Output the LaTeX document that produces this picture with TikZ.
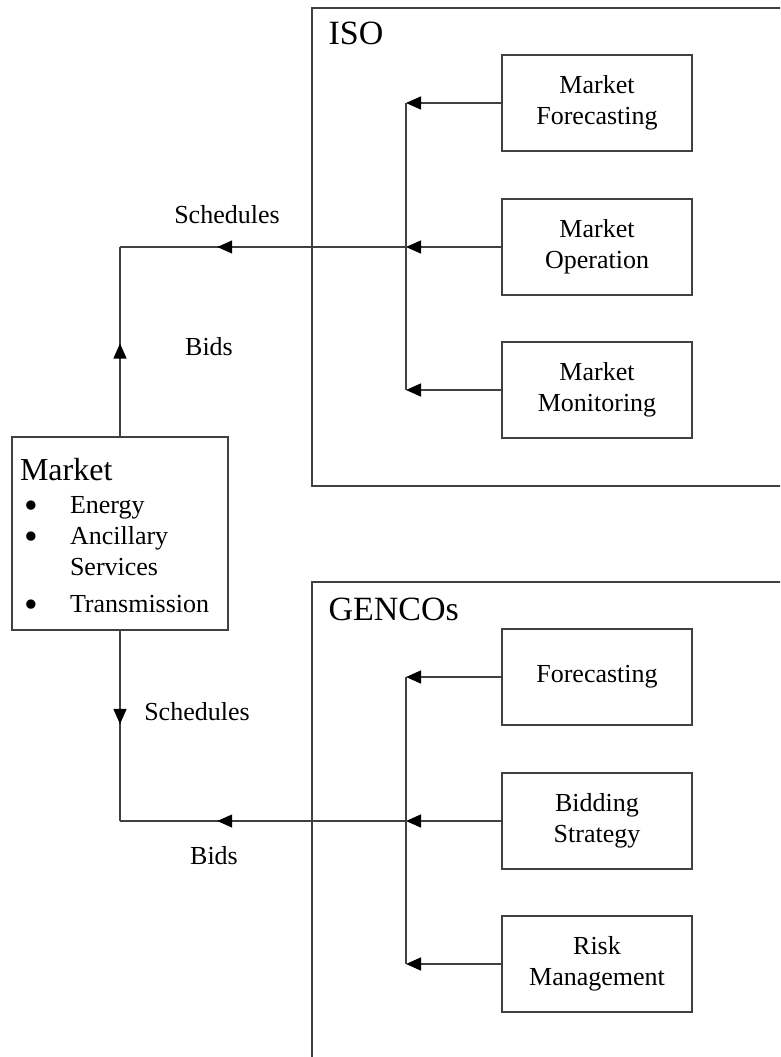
\documentclass[tikz,border=0pt]{standalone}
\usepackage{fontspec}
\setmainfont{Liberation Serif}
\usetikzlibrary{arrows.meta, positioning, calc, decorations.markings}

\newcommand{\mktbullet}{\smash{\raisebox{-4.5pt}{\scalebox{1.5}{\textbullet}}}}

\begin{document}
\begin{tikzpicture}[
  x=1pt, y=-1pt,
  every node/.style={font=\fontsize{26}{31}\selectfont},
  line/.style={draw=black!75, line width=1.5pt},
  box/.style={line, rectangle, minimum width=190pt, minimum height=96pt, align=center, inner sep=2pt},
  group/.style={font=\fontsize{34}{40}\selectfont, anchor=base west},
  tag/.style={anchor=base},
  arrow/.style={line, -{Triangle[length=15pt, width=13pt, color=black]}},
  midarrow/.style={line, postaction={decorate}, decoration={markings,
    mark=at position #1 with {\arrow{Triangle[length=15pt, width=13pt, color=black]}}}}
]

  \fill[white] (0,0) rectangle (780,1057);
  \clip (0,0) rectangle (780,1057);

  % ISO and GENCOs frames (run off the page)
  \draw[line] (800,8) -- (312,8) -- (312,486) -- (800,486);
  \draw[line] (800,582) -- (312,582) -- (312,1080);
  \node[group] (iso) at (325,45) {ISO};
  \node[group] (gencos) at (325,620) {GENCOs};

  \node[box] (mfc) at (597,103) {Market\\Forecasting};
  \node[box] (mop) at (597,247) {Market\\Operation};
  \node[box] (mmo) at (597,390) {Market\\Monitoring};

  \node[box] (fc) at (597,677) {Forecasting};
  \node[box] (bs) at (597,821) {Bidding\\Strategy};
  \node[box] (rm) at (597,964) {Risk\\Management};

  \node[line, rectangle, minimum width=216pt, minimum height=193pt, text width=200pt, align=left, inner sep=0pt] (market) at (120,533.5) {%
    \rule{0pt}{36pt}{\fontsize{32}{36}\selectfont Market}\\[10pt]
    \begin{tabular}{@{\hspace{4pt}}p{46pt}@{}l@{}}
      \mktbullet & Energy\\
      \mktbullet & Ancillary\\
                 & Services\\[6pt]
      \mktbullet & Transmission
    \end{tabular}};

  % buses
  \coordinate (busx) at (406,0);
  \coordinate (isotop) at (mfc.west -| busx);
  \coordinate (isomid) at (mop.west -| busx);
  \coordinate (isobot) at (mmo.west -| busx);
  \coordinate (gentop) at (fc.west -| busx);
  \coordinate (genmid) at (bs.west -| busx);
  \coordinate (genbot) at (rm.west -| busx);
  \coordinate (upcorner) at (market.north |- isomid);
  \coordinate (downcorner) at (market.south |- genmid);

  \draw[arrow] (mfc.west) -- (isotop);
  \draw[arrow] (mop.west) -- (isomid);
  \draw[arrow] (mmo.west) -- (isobot);
  \draw[line] (isotop) -- (isobot);

  \draw[arrow] (fc.west) -- (gentop);
  \draw[arrow] (bs.west) -- (genmid);
  \draw[arrow] (rm.west) -- (genbot);
  \draw[line] (gentop) -- (genbot);

  \draw[midarrow=0.49] (market.north) -- (upcorner);
  \draw[midarrow=0.66] (isomid) -- (upcorner);
  \draw[midarrow=0.49] (market.south) -- (downcorner);
  \draw[midarrow=0.66] (genmid) -- (downcorner);

  \node[tag] (schedup) at (227,223) {Schedules};
  \node[tag] (bidsup) at (209,355) {Bids};
  \node[tag] (scheddown) at (197,720) {Schedules};
  \node[tag] (bidsdown) at (214,864) {Bids};

\end{tikzpicture}
\end{document}
